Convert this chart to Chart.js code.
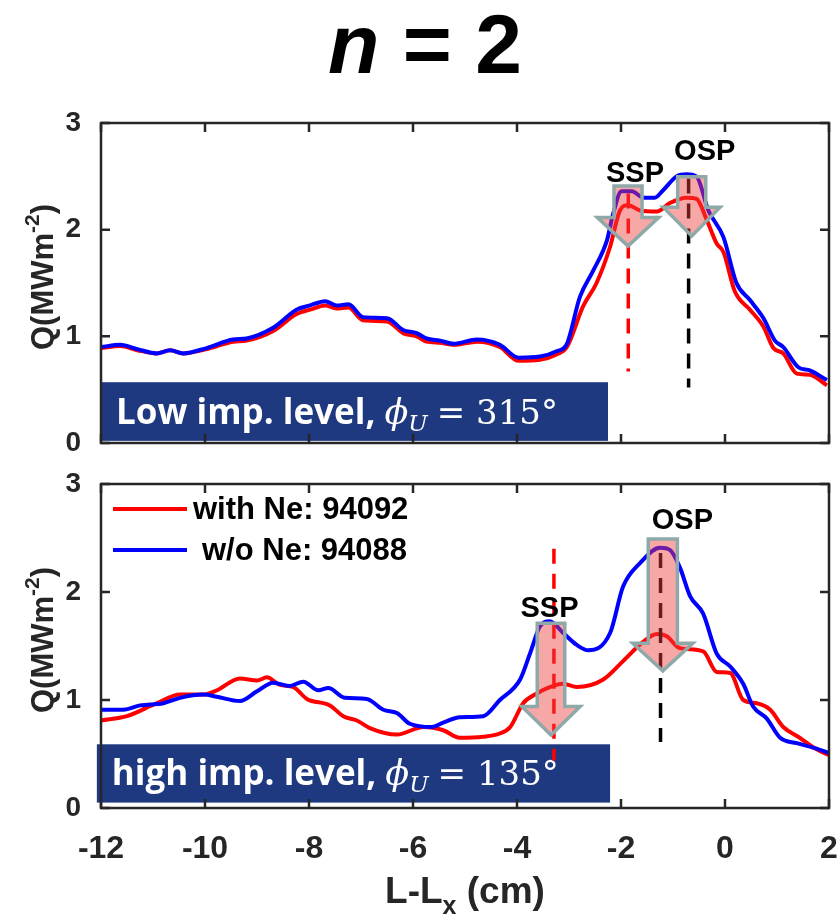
<!DOCTYPE html>
<html>
<head>
<meta charset="utf-8">
<script src="https://cdn.jsdelivr.net/npm/chart.js@4.4.1/dist/chart.umd.min.js"></script>
<style>
  body { margin: 0; background: #fff; width: 839px; height: 920px; position: relative; overflow: hidden; }
  #title { position: absolute; left: 0; width: 850px; top: 2px; text-align: center;
           font: bold 84px "Liberation Sans", Arial, sans-serif; line-height: 84px; color: #000; }
  .panel { position: absolute; left: 0; width: 839px; height: 460px; }
</style>
</head>
<body>
<div id="title"><i>n</i> = 2</div>
<div class="panel" style="top:0"><canvas id="top-chart" width="839" height="460"></canvas></div>
<div class="panel" style="top:460px"><canvas id="bottom-chart" width="839" height="460"></canvas></div>

<script>
// L-L_x positions (cm) and heat flux Q (MW/m^2)

// top panel, low impurity level
const xTopBlue = [-12.0, -11.63, -11.3, -10.93, -10.67, -10.42, -9.97, -9.46, -9.2, -8.69, -8.24, -7.98, -7.69, -7.47, -7.24,
  -6.96, -6.5, -6.19, -5.93, -5.74, -5.48, -5.22, -4.77, -4.33, -3.97, -3.56, -3.24, -3.04, -2.79, -2.53, -2.27, -2.15,
  -1.99, -1.79, -1.57, -1.35, -1.19, -0.93, -0.74, -0.55, -0.32, -0.03, 0.22, 0.48, 0.74, 0.96, 1.12, 1.41, 1.63, 1.96];
const qTopBlue = [0.90, 0.92, 0.88, 0.84, 0.87, 0.84, 0.89, 0.97, 0.98, 1.08, 1.25, 1.29, 1.33, 1.29, 1.30,
  1.18, 1.17, 1.06, 1.03, 0.98, 0.96, 0.93, 0.97, 0.92, 0.80, 0.81, 0.86, 0.93, 1.37, 1.62, 1.90, 2.15,
  2.36, 2.36, 2.30, 2.30, 2.37, 2.50, 2.52, 2.50, 2.18, 1.93, 1.50, 1.34, 1.17, 0.96, 0.90, 0.71, 0.68, 0.59];

const xTopRed = [-12.0, -11.63, -11.3, -10.93, -10.67, -10.42, -9.97, -9.46, -9.2, -8.69, -8.24, -7.98, -7.69, -7.47, -7.24,
  -6.96, -6.5, -6.19, -5.93, -5.74, -5.48, -5.22, -4.77, -4.33, -3.97, -3.56, -3.24, -3.04, -2.73, -2.47, -2.21, -2.02,
  -1.86, -1.63, -1.31, -1.06, -0.74, -0.55, -0.35, -0.16, -0.03, 0.19, 0.48, 0.74, 0.93, 1.12, 1.38, 1.63, 1.96];
const qTopRed = [0.89, 0.91, 0.87, 0.84, 0.87, 0.84, 0.88, 0.95, 0.96, 1.05, 1.21, 1.25, 1.29, 1.26, 1.27,
  1.15, 1.14, 1.03, 1.00, 0.95, 0.94, 0.92, 0.95, 0.90, 0.77, 0.78, 0.83, 0.90, 1.28, 1.50, 1.84, 2.18,
  2.23, 2.18, 2.17, 2.25, 2.30, 2.29, 2.09, 1.87, 1.79, 1.42, 1.25, 1.09, 0.89, 0.84, 0.65, 0.64, 0.54];

// bottom panel, high impurity level
const xBotBlue = [-12.0, -11.57, -11.25, -10.8, -10.48, -10.03, -9.77, -9.33, -9.0, -8.69, -8.37, -8.11, -7.82, -7.63, -7.31,
  -6.89, -6.57, -6.31, -6.06, -5.64, -5.42, -5.1, -4.65, -4.33, -3.94, -3.75, -3.56, -3.37, -3.11, -2.85, -2.63, -2.21,
  -1.96, -1.63, -1.25, -1.06, -0.87, -0.67, -0.42, -0.16, 0.10, 0.35, 0.54, 0.80, 1.06, 1.38, 1.76, 1.99];
const qBotBlue = [0.91, 0.91, 0.95, 0.97, 1.02, 1.05, 1.03, 0.99, 1.08, 1.16, 1.13, 1.17, 1.09, 1.11, 1.02,
  1.01, 0.91, 0.88, 0.78, 0.75, 0.79, 0.84, 0.85, 1.00, 1.19, 1.43, 1.68, 1.73, 1.62, 1.51, 1.46, 1.62,
  2.05, 2.27, 2.41, 2.39, 2.23, 1.96, 1.80, 1.43, 1.31, 1.15, 0.94, 0.83, 0.65, 0.60, 0.55, 0.51];

const xBotRed = [-12.0, -11.5, -10.93, -10.48, -10.03, -9.77, -9.33, -9.0, -8.81, -8.56, -8.3, -8.04, -7.6, -7.34, -7.08,
  -6.83, -6.31, -5.8, -5.42, -5.1, -4.65, -4.33, -4.13, -3.88, -3.62, -3.37, -3.11, -2.85, -2.34, -1.96, -1.57, -1.31,
  -1.12, -0.87, -0.42, -0.16, 0.10, 0.35, 0.61, 0.87, 1.12, 1.44, 1.70, 1.99];
const qBotRed = [0.81, 0.85, 0.97, 1.05, 1.05, 1.09, 1.20, 1.18, 1.21, 1.14, 1.12, 1.01, 0.95, 0.85, 0.81,
  0.74, 0.68, 0.75, 0.72, 0.65, 0.66, 0.69, 0.75, 0.97, 1.06, 1.12, 1.15, 1.12, 1.19, 1.36, 1.54, 1.61,
  1.59, 1.48, 1.45, 1.26, 1.25, 1.00, 0.97, 0.91, 0.75, 0.65, 0.56, 0.49];

const xTicks = [-12, -10, -8, -6, -4, -2, 0, 2];
const yTicks = [0, 1, 2, 3];

const redLabel = 'with Ne: 94092';
const blueLabel = 'w/o Ne: 94088';

// annotations in data units
const topNotes = {
  box: { x0: -12, x1: -2.25, y0: 0.02, y1: 0.57, lead: 'Low imp. level,', angle: '315' },
  dashes: [{ x: -1.86, y0: 0.67, y1: 2.34, color: '#ff0000' }, { x: -0.70, y0: 0.52, y1: 2.48, color: '#000000' }],
  arrows: [
    { x: -1.865, top: 2.41, neck: 2.115, tip: 1.846, body: 0.27, head: 0.59 },
    { x: -0.64, top: 2.496, neck: 2.209, tip: 1.94, body: 0.27, head: 0.545 }
  ],
  labels: [{ text: 'SSP', x: -1.73, y: 2.45 }, { text: 'OSP', x: -0.39, y: 2.65 }],
  legend: false
};
const bottomNotes = {
  box: { x0: -12.08, x1: -2.21, y0: 0.05, y1: 0.59, lead: 'high imp. level,', angle: '135' },
  dashes: [{ x: -3.29, y0: 0.44, y1: 2.40, color: '#ff0000' }, { x: -1.24, y0: 0.61, y1: 2.36, color: '#000000' }],
  arrows: [
    { x: -3.346, top: 1.71, neck: 0.94, tip: 0.676, body: 0.265, head: 0.56 },
    { x: -1.196, top: 2.49, neck: 1.525, tip: 1.27, body: 0.28, head: 0.577 }
  ],
  labels: [{ text: 'SSP', x: -3.375, y: 1.77 }, { text: 'OSP', x: -0.82, y: 2.58 }],
  legend: true
};

function toPoints(xs, ys) {
  return xs.map((x, i) => ({ x: x, y: ys[i] }));
}

function drawBoxText(ctx, lead, angle, x, y) {
  ctx.fillStyle = '#ffffff';
  ctx.textAlign = 'left';
  ctx.textBaseline = 'alphabetic';
  ctx.font = 'bold 35px "Open Sans", Lato, sans-serif';
  ctx.fillText(lead, x, y);
  x += ctx.measureText(lead + ' ').width;
  ctx.font = 'italic 35px "DejaVu Serif", serif';
  ctx.fillText('\u03d5', x, y);
  x += ctx.measureText('\u03d5').width;
  ctx.font = 'italic 23px "DejaVu Serif", serif';
  ctx.fillText('U', x, y + 7);
  x += ctx.measureText('U').width + 9;
  ctx.font = '34px "DejaVu Serif", serif';
  ctx.fillText('= ' + angle + '\u00b0', x, y);
}

const notesPlugin = {
  id: 'notes',
  afterDatasetsDraw(chart, args, opts) {
    const ctx = chart.ctx;
    const xs = chart.scales.x, ys = chart.scales.y;
    const area = chart.chartArea;
    ctx.save();

    // dark label box
    const b = opts.box;
    const bx0 = xs.getPixelForValue(b.x0), bx1 = xs.getPixelForValue(b.x1);
    const byTop = ys.getPixelForValue(b.y1), byBot = ys.getPixelForValue(b.y0);
    ctx.fillStyle = '#1f3980';
    ctx.fillRect(bx0, byTop, bx1 - bx0, byBot - byTop);
    drawBoxText(ctx, b.lead, b.angle, bx0 + 15, (byTop + byBot) / 2 + 12);

    // dashed markers
    ctx.lineWidth = 3.5;
    ctx.setLineDash([15, 10]);
    opts.dashes.forEach(d => {
      const px = xs.getPixelForValue(d.x);
      ctx.strokeStyle = d.color;
      ctx.beginPath();
      ctx.moveTo(px, ys.getPixelForValue(d.y1));
      ctx.lineTo(px, ys.getPixelForValue(d.y0));
      ctx.stroke();
    });
    ctx.setLineDash([]);

    // down arrows
    opts.arrows.forEach(a => {
      const cx = xs.getPixelForValue(a.x);
      const bw = xs.getPixelForValue(a.x + a.body) - cx;
      const hw = xs.getPixelForValue(a.x + a.head) - cx;
      const yTop = ys.getPixelForValue(a.top);
      const yNeck = ys.getPixelForValue(a.neck);
      const yTip = ys.getPixelForValue(a.tip);
      ctx.beginPath();
      ctx.moveTo(cx - bw, yTop);
      ctx.lineTo(cx + bw, yTop);
      ctx.lineTo(cx + bw, yNeck);
      ctx.lineTo(cx + hw, yNeck);
      ctx.lineTo(cx, yTip);
      ctx.lineTo(cx - hw, yNeck);
      ctx.lineTo(cx - bw, yNeck);
      ctx.closePath();
      ctx.fillStyle = 'rgba(240, 60, 60, 0.45)';
      ctx.fill();
      ctx.strokeStyle = '#8fa9a9';
      ctx.lineWidth = 3.5;
      ctx.lineJoin = 'miter';
      ctx.stroke();
    });

    // SSP / OSP
    ctx.fillStyle = '#000000';
    ctx.font = 'bold 29px "Liberation Sans", Arial, sans-serif';
    ctx.textAlign = 'center';
    ctx.textBaseline = 'alphabetic';
    opts.labels.forEach(l => {
      ctx.fillText(l.text, xs.getPixelForValue(l.x), ys.getPixelForValue(l.y));
    });

    // legend
    if (opts.legend) {
      const rows = [chart.data.datasets[1], chart.data.datasets[0]];
      const textX = [area.left + 92, area.left + 101];
      rows.forEach((ds, i) => {
        const y = area.top + 25 + i * 41;
        ctx.strokeStyle = ds.borderColor;
        ctx.lineWidth = 4;
        ctx.beginPath();
        ctx.moveTo(area.left + 12, y);
        ctx.lineTo(area.left + 86, y);
        ctx.stroke();
        ctx.fillStyle = '#000000';
        ctx.font = 'bold 31px "Liberation Sans", Arial, sans-serif';
        ctx.textAlign = 'left';
        ctx.textBaseline = 'middle';
        ctx.fillText(ds.label, textX[i], y + 1);
      });
    }
    ctx.restore();
  }
};

// box frame, inward ticks, axis titles
const framePlugin = {
  id: 'frame',
  afterDraw(chart, args, opts) {
    const ctx = chart.ctx;
    const a = chart.chartArea;
    const xs = chart.scales.x, ys = chart.scales.y;
    ctx.save();
    ctx.strokeStyle = '#262626';
    ctx.lineWidth = 2.5;
    ctx.strokeRect(a.left, a.top, a.right - a.left, a.bottom - a.top);
    ctx.beginPath();
    xTicks.forEach(v => {
      const px = xs.getPixelForValue(v);
      ctx.moveTo(px, a.bottom); ctx.lineTo(px, a.bottom - 9);
      ctx.moveTo(px, a.top); ctx.lineTo(px, a.top + 9);
    });
    yTicks.forEach(v => {
      const py = ys.getPixelForValue(v);
      ctx.moveTo(a.left, py); ctx.lineTo(a.left + 9, py);
      ctx.moveTo(a.right, py); ctx.lineTo(a.right - 9, py);
    });
    ctx.stroke();

    // y title Q(MWm^-2)
    ctx.fillStyle = '#262626';
    ctx.textBaseline = 'alphabetic';
    ctx.textAlign = 'left';
    const main = 'bold 31px "Liberation Sans", Arial, sans-serif';
    const small = 'bold 21px "Liberation Sans", Arial, sans-serif';
    ctx.font = main;
    const w1 = ctx.measureText('Q(MWm').width, w3 = ctx.measureText(')').width;
    ctx.font = small;
    const w2 = ctx.measureText('-2').width;
    ctx.translate(53, (a.top + a.bottom) / 2 - 6);
    ctx.rotate(-Math.PI / 2);
    let x = -(w1 + w2 + w3) / 2;
    ctx.font = main;
    ctx.fillText('Q(MWm', x, 0);
    x += w1;
    ctx.font = small;
    ctx.fillText('-2', x, -14);
    x += w2;
    ctx.font = main;
    ctx.fillText(')', x, 0);
    ctx.setTransform(1, 0, 0, 1, 0, 0);

    // x title L-L_x (cm)
    if (opts.xTitle) {
      const big = 'bold 37px "Liberation Sans", Arial, sans-serif';
      const sub = 'bold 25px "Liberation Sans", Arial, sans-serif';
      ctx.font = big;
      const t1 = ctx.measureText('L-L').width, t3 = ctx.measureText(' (cm)').width;
      ctx.font = sub;
      const t2 = ctx.measureText('x').width;
      let tx = (a.left + a.right) / 2 - (t1 + t2 + t3) / 2;
      const ty = a.bottom + 95;
      ctx.font = big;
      ctx.fillText('L-L', tx, ty);
      tx += t1;
      ctx.font = sub;
      ctx.fillText('x', tx, ty + 11);
      tx += t2;
      ctx.font = big;
      ctx.fillText(' (cm)', tx, ty);
    }
    ctx.restore();
  }
};

function makePanel(id, blue, red, notes, padTop, xHeight, showX) {
  const ctx = document.getElementById(id);
  return new Chart(ctx, {
    type: 'line',
    data: {
      datasets: [{
        label: blueLabel,
        data: blue,
        borderColor: '#0000ff',
        borderWidth: 4,
        pointRadius: 0,
        cubicInterpolationMode: 'monotone',
        fill: false
      }, {
        label: redLabel,
        data: red,
        borderColor: '#ff0000',
        borderWidth: 4,
        pointRadius: 0,
        cubicInterpolationMode: 'monotone',
        fill: false
      }]
    },
    options: {
      responsive: false,
      animation: false,
      devicePixelRatio: 1,
      layout: { padding: { top: padTop, right: 10, bottom: 0, left: 0 } },
      scales: {
        x: {
          type: 'linear',
          min: -12,
          max: 2,
          afterBuildTicks: s => { s.ticks = xTicks.map(v => ({ value: v })); },
          afterFit: s => { s.height = xHeight; s.paddingLeft = 0; s.paddingRight = 0; },
          ticks: {
            display: showX,
            color: '#262626',
            padding: 14,
            font: { family: '"Liberation Sans", Arial, sans-serif', size: 32, weight: 'bold' }
          },
          grid: { display: false },
          border: { display: false }
        },
        y: {
          min: 0,
          max: 3,
          afterBuildTicks: s => { s.ticks = yTicks.map(v => ({ value: v })); },
          afterFit: s => { s.width = 101; s.paddingTop = 0; s.paddingBottom = 0; },
          ticks: {
            color: '#262626',
            padding: 12,
            font: { family: '"Liberation Sans", Arial, sans-serif', size: 28, weight: 'bold' }
          },
          grid: { display: false },
          border: { display: false }
        }
      },
      plugins: {
        legend: { display: false },
        tooltip: { enabled: false },
        notes: notes,
        frame: { xTitle: showX }
      }
    },
    plugins: [notesPlugin, framePlugin]
  });
}

makePanel('top-chart', toPoints(xTopBlue, qTopBlue), toPoints(xTopRed, qTopRed), topNotes, 123, 17, false);
makePanel('bottom-chart', toPoints(xBotBlue, qBotBlue), toPoints(xBotRed, qBotRed), bottomNotes, 24, 112, true);
</script>
</body>
</html>
